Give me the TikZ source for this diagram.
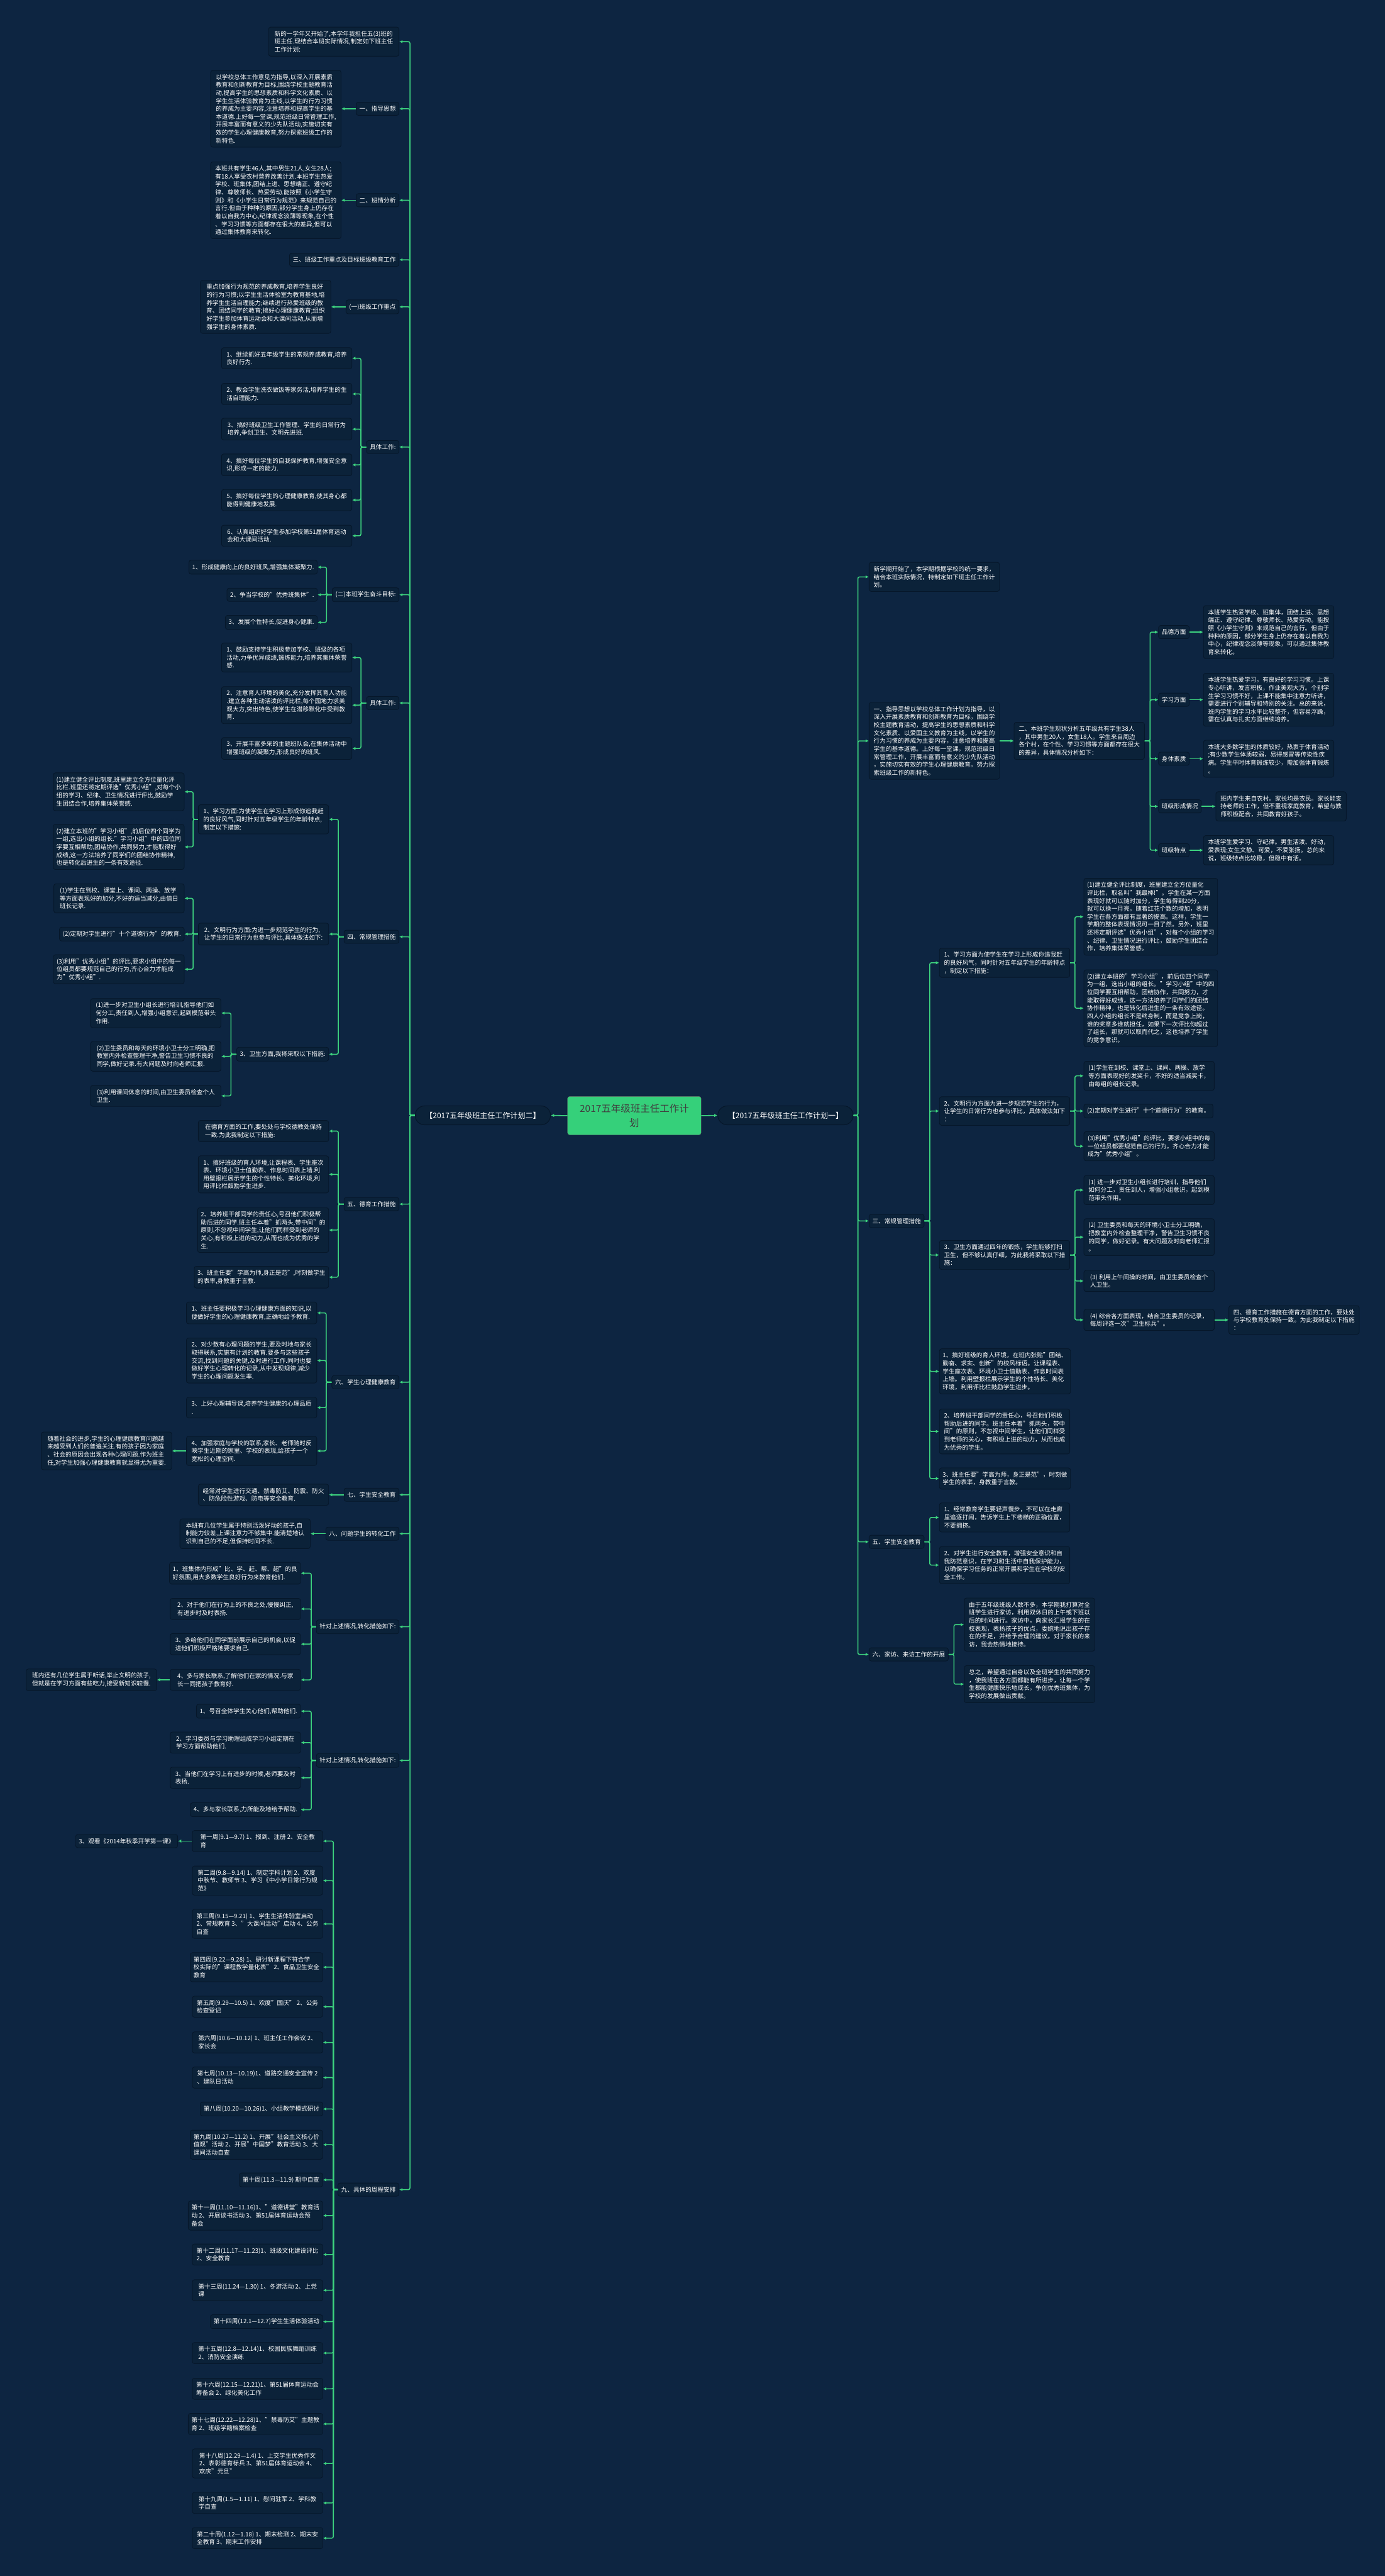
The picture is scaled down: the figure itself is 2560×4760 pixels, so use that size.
\documentclass[tikz,border=0pt]{standalone}
\usepackage{fontspec}
\setmainfont{Noto Sans CJK SC}
\usetikzlibrary{arrows.meta,shapes.misc}
\definecolor{bgnavy}{HTML}{0D2541}
\definecolor{cardfill}{HTML}{0B2239}
\definecolor{cardline}{HTML}{06172A}
\definecolor{linkgreen}{HTML}{3DD47F}
\definecolor{rootgreen}{HTML}{35D07A}
\newcommand{\cardfont}{\fontsize{11.2}{14.7}\selectfont}
\tikzset{
  card/.style={draw=cardline, fill=cardfill, line width=1pt, rounded corners=4pt, text=white, font=\cardfont, align=left, inner xsep=6pt, inner ysep=7pt},
  wide/.style={card, minimum width=241pt},
  branch/.style={rounded rectangle, draw=cardline, fill=cardfill, line width=1.2pt, text=white, font=\fontsize{14}{17}\selectfont, minimum width=257pt, minimum height=35pt},
  root/.style={draw=black!60, fill=rootgreen, rounded corners=4pt, text=black!75, font=\fontsize{18}{26}\selectfont, align=center, minimum width=247pt, minimum height=71pt},
  link/.style={draw=linkgreen, line width=1.8pt, rounded corners=3pt, -{Latex[length=6pt,width=6pt]}}
}
\begin{document}
\begin{tikzpicture}[x=1pt, y=-1pt]

\fill[bgnavy] (0,0) rectangle (2560,4760);

\node[root] (root) at (1172.5,2061.5) {2017五年级班主任工作计\\划};
\node[branch] (lbranch) at (892.5,2061) {【2017五年级班主任工作计划二】};
\node[branch] (rbranch) at (1452,2061) {【2017五年级班主任工作计划一】};
\draw[link] (root.west) -- (lbranch.east);
\draw[link] (root.east) -- (rbranch.west);

% left: plan two
\begin{scope}
\node[wide, anchor=east] (la1) at (738,77) {新的一学年又开始了,本学年我担任五(3)班的\\班主任.现结合本班实际情况,制定如下班主任\\工作计划:};

\node[card, anchor=east] (la2) at (738,201) {一、指导思想};
\node[wide, anchor=east] (la2t) at (631,201) {以学校总体工作意见为指导,以深入开展素质\\教育和创新教育为目标,围绕学校主题教育活\\动,提高学生的思想素质和科学文化素质、以\\学生生活体验教育为主线,以学生的行为习惯\\的养成为主要内容,注意培养和提高学生的基\\本道德.上好每一堂课,规范班级日常管理工作,\\开展丰富而有意义的少先队活动,实施切实有\\效的学生心理健康教育,努力探索班级工作的\\新特色.};

\node[card, anchor=east] (la3) at (738,370) {二、班情分析};
\node[wide, anchor=east] (la3t) at (631,370) {本班共有学生46人,其中男生21人,女生28人;\\有18人享受农村营养改善计划.本班学生热爱\\学校、班集体,团结上进、思想端正、遵守纪\\律、尊敬师长、热爱劳动.能按照《小学生守\\则》和《小学生日常行为规范》来规范自己的\\言行.但由于种种的原因,部分学生身上仍存在\\着以自我为中心,纪律观念淡薄等现象,在个性\\、学习习惯等方面都存在很大的差异,但可以\\通过集体教育来转化.};

\node[card, anchor=east] (la4) at (738,480) {三、班级工作重点及目标班级教育工作};

\node[card, anchor=east] (la5) at (738,567) {(一)班级工作重点};
\node[wide, anchor=east] (la5t) at (612,567) {重点加强行为规范的养成教育,培养学生良好\\的行为习惯;以学生生活体验室为教育基地,培\\养学生生活自理能力;继续进行热爱班级的教\\育、团结同学的教育;搞好心理健康教育;组织\\好学生参加体育运动会和大课间活动,从而增\\强学生的身体素质.};

\node[card, anchor=east] (la6) at (738,826) {具体工作:};
\node[wide, anchor=east] (la6a) at (651,662) {1、继续抓好五年级学生的常规养成教育,培养\\良好行为.};
\node[wide, anchor=east] (la6b) at (651,728) {2、教会学生洗衣做饭等家务活,培养学生的生\\活自理能力.};
\node[wide, anchor=east] (la6c) at (651,793) {3、搞好班级卫生工作管理、学生的日常行为\\培养,争创卫生、文明先进班.};
\node[wide, anchor=east] (la6d) at (651,859) {4、搞好每位学生的自我保护教育,增强安全意\\识,形成一定的能力.};
\node[wide, anchor=east] (la6e) at (651,924) {5、搞好每位学生的心理健康教育,使其身心都\\能得到健康地发展.};
\node[wide, anchor=east] (la6f) at (651,990) {6、认真组织好学生参加学校第51届体育运动\\会和大课间活动.};

\node[card, anchor=east] (la7) at (738,1099) {(二)本班学生奋斗目标:};
\node[card, anchor=east] (la7a) at (587,1048) {1、形成健康向上的良好班风,增强集体凝聚力.};
\node[card, anchor=east] (la7b) at (587,1099) {2、争当学校的"优秀班集体".};
\node[card, anchor=east] (la7c) at (587,1150) {3、发展个性特长,促进身心健康.};

\node[card, anchor=east] (la8) at (738,1299) {具体工作:};
\node[wide, anchor=east] (la8a) at (651,1215) {1、鼓励支持学生积极参加学校、班级的各项\\活动,力争优异成绩,锻炼能力,培养其集体荣誉\\感.};
\node[wide, anchor=east] (la8b) at (651,1303) {2、注意育人环境的美化,充分发挥其育人功能\\.建立各种生动活泼的评比栏,每个园地力求美\\观大方,突出特色,使学生在潜移默化中受到教\\育.};
\node[wide, anchor=east] (la8c) at (651,1383) {3、开展丰富多采的主题班队会,在集体活动中\\增强班级的凝聚力,形成良好的班风.};

\node[card, anchor=east] (la9) at (738,1731) {四、常规管理措施};
\node[wide, anchor=east] (lb1) at (608,1514) {1、学习方面:为使学生在学习上形成你追我赶\\的良好风气,同时针对五年级学生的年龄特点,\\制定以下措施:};
\node[wide, anchor=east] (lb1a) at (341,1463) {(1)建立健全评比制度,班里建立全方位量化评\\比栏.班里还将定期评选"优秀小组",对每个小\\组的学习、纪律、卫生情况进行评比,鼓励学\\生团结合作,培养集体荣誉感.};
\node[wide, anchor=east] (lb1b) at (341,1565) {(2)建立本班的"学习小组",前后位四个同学为\\一组,选出小组的组长."学习小组"中的四位同\\学要互相帮助,团结协作,共同努力,才能取得好\\成绩,这一方法培养了同学们的团结协作精神,\\也是转化后进生的一条有效途径.};
\node[wide, anchor=east] (lb2) at (608,1726) {2、文明行为方面:为进一步规范学生的行为,\\让学生的日常行为也参与评比,具体做法如下:};
\node[wide, anchor=east] (lb2a) at (341,1660) {(1)学生在到校、课堂上、课间、两操、放学\\等方面表现好的加分,不好的适当减分,由值日\\班长记录.};
\node[card, anchor=east] (lb2b) at (341,1726) {(2)定期对学生进行"十个道德行为"的教育.};
\node[wide, anchor=east] (lb2c) at (341,1791) {(3)利用"优秀小组"的评比,要求小组中的每一\\位组员都要规范自己的行为,齐心合力才能成\\为"优秀小组".};
\node[card, anchor=east] (lb3) at (608,1948) {3、卫生方面,我将采取以下措施:};
\node[wide, anchor=east] (lb3a) at (409,1872) {(1)进一步对卫生小组长进行培训,指导他们如\\何分工,责任到人,增强小组意识,起到模范带头\\作用.};
\node[wide, anchor=east] (lb3b) at (409,1952) {(2)卫生委员和每天的环境小卫士分工明确,把\\教室内外检查整理干净,警告卫生习惯不良的\\同学,做好记录.有大问题及时向老师汇报.};
\node[wide, anchor=east] (lb3c) at (409,2025) {(3)利用课间休息的时间,由卫生委员检查个人\\卫生.};

\node[card, anchor=east] (la10) at (738,2225) {五、德育工作措施};
\node[wide, anchor=east] (la10a) at (608,2090) {在德育方面的工作,要处处与学校德教处保持\\一致.为此我制定以下措施:};
\node[wide, anchor=east] (la10b) at (608,2170) {1、搞好班级的育人环境,让课程表、学生座次\\表、环境小卫士值勤表、作息时间表上墙.利\\用壁报栏展示学生的个性特长、美化环境,利\\用评比栏鼓励学生进步.};
\node[wide, anchor=east] (la10c) at (608,2273) {2、培养班干部同学的责任心,号召他们积极帮\\助后进的同学.班主任本着"抓两头,带中间"的\\原则,不忽视中间学生,让他们同样受到老师的\\关心,有积极上进的动力,从而也成为优秀的学\\生.};
\node[wide, anchor=east] (la10d) at (608,2360) {3、班主任要"学高为师,身正是范",时刻做学生\\的表率,身教重于言教.};

\node[card, anchor=east] (la11) at (738,2554) {六、学生心理健康教育};
\node[wide, anchor=east] (la11a) at (586,2426) {1、班主任要积极学习心理健康方面的知识,以\\便做好学生的心理健康教育,正确地给予教育.};
\node[wide, anchor=east] (la11b) at (586,2514) {2、对少数有心理问题的学生,要及时地与家长\\取得联系,实施有计划的教育.要多与这些孩子\\交流,找到问题的关键,及时进行工作.同时也要\\做好学生心理转化的记录,从中发现规律,减少\\学生的心理问题发生率.};
\node[wide, anchor=east] (la11c) at (586,2601) {3、上好心理辅导课,培养学生健康的心理品质\\.};
\node[wide, anchor=east] (la11d) at (586,2681) {4、加强家庭与学校的联系,家长、老师随时反\\映学生近期的家里、学校的表现,给孩子一个\\宽松的心理空间.};
\node[wide, anchor=east] (la11e) at (318,2681) {随着社会的进步,学生的心理健康教育问题越\\来越受到人们的普遍关注.有的孩子因为家庭\\、社会的原因会出现各种心理问题.作为班主\\任,对学生加强心理健康教育就显得尤为重要.};

\node[card, anchor=east] (la12) at (738,2762) {七、学生安全教育};
\node[wide, anchor=east] (la12t) at (608,2762) {经常对学生进行交通、禁毒防艾、防震、防火\\、防危险性游戏、防电等安全教育.};

\node[card, anchor=east] (la13) at (738,2834) {八、问题学生的转化工作};
\node[wide, anchor=east] (la13t) at (574,2834) {本班有几位学生属于特别活泼好动的孩子,自\\制能力较差,上课注意力不够集中.能清楚地认\\识到自己的不足,但保持时间不长.};

\node[card, anchor=east] (la14) at (738,3006) {针对上述情况,转化措施如下:};
\node[wide, anchor=east] (la14a) at (556,2907) {1、班集体内形成"比、学、赶、帮、超"的良\\好氛围,用大多数学生良好行为来教育他们.};
\node[wide, anchor=east] (la14b) at (556,2973) {2、对于他们在行为上的不良之处,慢慢纠正,\\有进步时及时表扬.};
\node[wide, anchor=east] (la14c) at (556,3038) {3、多给他们在同学面前展示自己的机会,以促\\进他们积极严格地要求自己.};
\node[wide, anchor=east] (la14d) at (556,3104) {4、多与家长联系,了解他们在家的情况.与家\\长一同把孩子教育好.};
\node[wide, anchor=east] (la14e) at (290,3104) {班内还有几位学生属于听话,举止文明的孩子,\\但就是在学习方面有些吃力,接受新知识较慢.};

\node[card, anchor=east] (la15) at (738,3253) {针对上述情况,转化措施如下:};
\node[card, anchor=east] (la15a) at (556,3162) {1、号召全体学生关心他们,帮助他们.};
\node[wide, anchor=east] (la15b) at (556,3220) {2、学习委员与学习助理组成学习小组定期在\\学习方面帮助他们.};
\node[wide, anchor=east] (la15c) at (556,3285) {3、当他们在学习上有进步的时候,老师要及时\\表扬.};
\node[card, anchor=east] (la15d) at (556,3344) {4、多与家长联系,力所能及地给予帮助.};

\node[card, anchor=east] (la16) at (738,4046) {九、具体的周程安排};
\node[wide, anchor=east] (w1) at (597,3402) {第一周(9.1—9.7) 1、报到、注册 2、安全教\\育};
\node[card, anchor=east] (w1x) at (329,3402) {3、观看《2014年秋季开学第一课》};
\node[wide, anchor=east] (w2) at (597,3475) {第二周(9.8—9.14) 1、制定学科计划 2、欢度\\中秋节、教师节 3、学习《中小学日常行为规\\范》};
\node[wide, anchor=east] (w3) at (597,3555) {第三周(9.15—9.21) 1、学生生活体验室启动\\2、常规教育 3、"大课间活动"启动 4、公务\\自查};
\node[wide, anchor=east] (w4) at (597,3635) {第四周(9.22—9.28) 1、研讨新课程下符合学\\校实际的"课程教学量化表" 2、食品卫生安全\\教育};
\node[wide, anchor=east] (w5) at (597,3708) {第五周(9.29—10.5) 1、欢度"国庆" 2、公务\\检查登记};
\node[wide, anchor=east] (w6) at (597,3774) {第六周(10.6—10.12) 1、班主任工作会议 2、\\家长会};
\node[wide, anchor=east] (w7) at (597,3839) {第七周(10.13—10.19)1、道路交通安全宣传 2\\、建队日活动};
\node[card, anchor=east] (w8) at (597,3897) {第八周(10.20—10.26)1、小组教学模式研讨};
\node[wide, anchor=east] (w9) at (597,3963) {第九周(10.27—11.2) 1、开展"社会主义核心价\\值观"活动 2、开展"中国梦"教育活动 3、大\\课间活动自查};
\node[card, anchor=east] (w10) at (597,4028) {第十周(11.3—11.9) 期中自查};
\node[wide, anchor=east] (w11) at (597,4094) {第十一周(11.10—11.16)1、"道德讲堂"教育活\\动 2、开展读书活动 3、第51届体育运动会预\\备会};
\node[wide, anchor=east] (w12) at (597,4166) {第十二周(11.17—11.23)1、班级文化建设评比\\2、安全教育};
\node[wide, anchor=east] (w13) at (597,4232) {第十三周(11.24—1.30) 1、冬游活动 2、上党\\课};
\node[card, anchor=east] (w14) at (597,4290) {第十四周(12.1—12.7)学生生活体验活动};
\node[wide, anchor=east] (w15) at (597,4348) {第十五周(12.8—12.14)1、校园民族舞蹈训练\\2、消防安全演练};
\node[wide, anchor=east] (w16) at (597,4414) {第十六周(12.15—12.21)1、第51届体育运动会\\筹备会 2、绿化美化工作};
\node[wide, anchor=east] (w17) at (597,4479) {第十七周(12.22—12.28)1、"禁毒防艾"主题教\\育 2、班级学籍档案检查};
\node[wide, anchor=east] (w18) at (597,4552) {第十八周(12.29—1.4) 1、上交学生优秀作文\\2、表彰德育标兵 3、第51届体育运动会 4、\\欢庆"元旦"};
\node[wide, anchor=east] (w19) at (597,4625) {第十九周(1.5—1.11) 1、慰问驻军 2、学科教\\学自查};
\node[wide, anchor=east] (w20) at (597,4690) {第二十周(1.12—1.18) 1、期末检测 2、期末安\\全教育 3、期末工作安排};

\foreach \c in {la1,la2,la3,la4,la5,la6,la7,la8,la9,la10,la11,la12,la13,la14,la15,la16}
  \draw[link] (lbranch.west) -- ++(-9,0) |- (\c.east);
\draw[link] (la2.west) -- (la2t.east);
\draw[link] (la3.west) -- (la3t.east);
\draw[link] (la5.west) -- (la5t.east);
\foreach \c in {la6a,la6b,la6c,la6d,la6e,la6f}
  \draw[link] (la6.west) -- ++(-10,0) |- (\c.east);
\foreach \c in {la7a,la7b,la7c}
  \draw[link] (la7.west) -- ++(-10,0) |- (\c.east);
\foreach \c in {la8a,la8b,la8c}
  \draw[link] (la8.west) -- ++(-10,0) |- (\c.east);
\foreach \c in {lb1,lb2,lb3}
  \draw[link] (la9.west) -- ++(-10,0) |- (\c.east);
\foreach \c in {lb1a,lb1b}
  \draw[link] (lb1.west) -- ++(-9,0) |- (\c.east);
\foreach \c in {lb2a,lb2b,lb2c}
  \draw[link] (lb2.west) -- ++(-9,0) |- (\c.east);
\foreach \c in {lb3a,lb3b,lb3c}
  \draw[link] (lb3.west) -- ++(-10,0) |- (\c.east);
\foreach \c in {la10a,la10b,la10c,la10d}
  \draw[link] (la10.west) -- ++(-10,0) |- (\c.east);
\foreach \c in {la11a,la11b,la11c,la11d}
  \draw[link] (la11.west) -- ++(-10,0) |- (\c.east);
\draw[link] (la11d.west) -- (la11e.east);
\draw[link] (la12.west) -- (la12t.east);
\draw[link] (la13.west) -- (la13t.east);
\foreach \c in {la14a,la14b,la14c,la14d}
  \draw[link] (la14.west) -- ++(-9,0) |- (\c.east);
\draw[link] (la14d.west) -- (la14e.east);
\foreach \c in {la15a,la15b,la15c,la15d}
  \draw[link] (la15.west) -- ++(-9,0) |- (\c.east);
\foreach \c in {w1,w2,w3,w4,w5,w6,w7,w8,w9,w10,w11,w12,w13,w14,w15,w16,w17,w18,w19,w20}
  \draw[link] (la16.west) -- ++(-8,0) |- (\c.east);
\draw[link] (w1.west) -- (w1x.east);
\end{scope}

% right: plan one
\begin{scope}
\node[wide, anchor=west] (ra1) at (1606,1066) {新学期开始了，本学期根据学校的统一要求，\\结合本班实际情况，特制定如下班主任工作计\\划。};
\node[wide, anchor=west] (ra2) at (1606,1369) {一、指导思想以学校总体工作计划为指导，以\\深入开展素质教育和创新教育为目标，围绕学\\校主题教育活动，提高学生的思想素质和科学\\文化素质、以爱国主义教育为主线，以学生的\\行为习惯的养成为主要内容，注意培养和提高\\学生的基本道德。上好每一堂课，规范班级日\\常管理工作，开展丰富而有意义的少先队活动\\，实施切实有效的学生心理健康教育。努力探\\索班级工作的新特色。};
\node[wide, anchor=west] (rb) at (1874,1369) {二、本班学生现状分析五年级共有学生38人\\，其中男生20人，女生18人。学生来自周边\\各个村，在个性、学习习惯等方面都存在很大\\的差异，具体情况分析如下：};
\node[card, anchor=west] (rb1) at (2141,1168) {品德方面};
\node[card, anchor=west] (rb2) at (2141,1293) {学习方面};
\node[card, anchor=west] (rb3) at (2141,1402) {身体素质};
\node[card, anchor=west] (rb4) at (2141,1490) {班级形成情况};
\node[card, anchor=west] (rb5) at (2141,1571) {班级特点};
\node[wide, anchor=west] (rb1t) at (2224,1168) {本班学生热爱学校、班集体，团结上进、思想\\端正、遵守纪律、尊敬师长、热爱劳动。能按\\照《小学生守则》来规范自己的言行。但由于\\种种的原因，部分学生身上仍存在着以自我为\\中心，纪律观念淡薄等现象，可以通过集体教\\育来转化。};
\node[wide, anchor=west] (rb2t) at (2224,1293) {本班学生热爱学习，有良好的学习习惯。上课\\专心听讲，发言积极，作业美观大方。个别学\\生学习习惯不好，上课不能集中注意力听讲，\\需要进行个别辅导和特别的关注。总的来说，\\班内学生的学习水平比较整齐，但容易浮躁，\\需在认真与扎实方面继续培养。};
\node[wide, anchor=west] (rb3t) at (2224,1402) {本班大多数学生的体质较好，热衷于体育活动\\;有少数学生体质较弱，易得感冒等传染性疾\\病。学生平时体育锻炼较少，需加强体育锻炼\\。};
\node[wide, anchor=west] (rb4t) at (2247,1490) {班内学生来自农村。家长均是农民。家长能支\\持老师的工作，但不重视家庭教育，希望与教\\师积极配合，共同教育好孩子。};
\node[wide, anchor=west] (rb5t) at (2224,1571) {本班学生爱学习、守纪律。男生活泼、好动，\\爱表现;女生文静、可爱，不爱张扬。总的来\\说，班级特点比较稳，但稳中有活。};

\node[card, anchor=west] (ra3) at (1606,2256) {三、常规管理措施};
\node[wide, anchor=west] (rc1) at (1736,1779) {1、学习方面为使学生在学习上形成你追我赶\\的良好风气，同时针对五年级学生的年龄特点\\，制定以下措施：};
\node[wide, anchor=west] (rc1a) at (2003,1694) {(1)建立健全评比制度，班里建立全方位量化\\评比栏，取名叫"我最棒!"。学生在某一方面\\表现好就可以随时加分，学生每得到20分，\\就可以换一月亮。随着红花个数的增加，表明\\学生在各方面都有显著的提高。这样，学生一\\学期的整体表现情况可一目了然。另外，班里\\还将定期评选"优秀小组"，对每个小组的学习\\、纪律、卫生情况进行评比，鼓励学生团结合\\作，培养集体荣誉感。};
\node[wide, anchor=west] (rc1b) at (2003,1863) {(2)建立本班的"学习小组"，前后位四个同学\\为一组，选出小组的组长。"学习小组"中的四\\位同学要互相帮助，团结协作，共同努力，才\\能取得好成绩，这一方法培养了同学们的团结\\协作精神，也是转化后进生的一条有效途径。\\四人小组的组长不是终身制，而是竞争上岗，\\谁的奖章多谁就担任，如果下一次评比你超过\\了组长，那就可以取而代之，这也培养了学生\\的竞争意识。};
\node[wide, anchor=west] (rc2) at (1736,2053) {2、文明行为方面为进一步规范学生的行为，\\让学生的日常行为也参与评比，具体做法如下\\：};
\node[wide, anchor=west] (rc2a) at (2003,1988) {(1)学生在到校、课堂上、课间、两操、放学\\等方面表现好的发奖卡，不好的适当减奖卡，\\由每组的组长记录。};
\node[card, anchor=west] (rc2b) at (2003,2053) {(2)定期对学生进行"十个道德行为"的教育。};
\node[wide, anchor=west] (rc2c) at (2003,2118) {(3)利用"优秀小组"的评比，要求小组中的每\\一位组员都要规范自己的行为，齐心合力才能\\成为"优秀小组"。};
\node[wide, anchor=west] (rc3) at (1736,2319) {3、卫生方面通过四年的锻炼，学生能够打扫\\卫生，但不够认真仔细，为此我将采取以下措\\施：};
\node[wide, anchor=west] (rc3a) at (2003,2199) {(1) 进一步对卫生小组长进行培训，指导他们\\如何分工，责任到人，增强小组意识，起到模\\范带头作用。};
\node[wide, anchor=west] (rc3b) at (2003,2286) {(2) 卫生委员和每天的环境小卫士分工明确，\\把教室内外检查整理干净，警告卫生习惯不良\\的同学，做好记录。有大问题及时向老师汇报\\。};
\node[wide, anchor=west] (rc3c) at (2003,2367) {(3) 利用上午间操的时间，由卫生委员检查个\\人卫生。};
\node[wide, anchor=west] (rc3d) at (2003,2439) {(4) 综合各方面表现，结合卫生委员的记录，\\每周评选一次"卫生标兵"。};
\node[wide, anchor=west] (rc3e) at (2271,2439) {四、德育工作措施在德育方面的工作，要处处\\与学校教育处保持一致。为此我制定以下措施\\：};
\node[wide, anchor=west] (rc4) at (1736,2534) {1、搞好班级的育人环境，在班内张贴"团结、\\勤奋、求实、创新"的校风标语。让课程表、\\学生座次表、环境小卫士值勤表、作息时间表\\上墙。利用壁报栏展示学生的个性特长、美化\\环境，利用评比栏鼓励学生进步。};
\node[wide, anchor=west] (rc5) at (1736,2645) {2、培养班干部同学的责任心，号召他们积极\\帮助后进的同学。班主任本着"抓两头，带中\\间"的原则，不忽视中间学生，让他们同样受\\到老师的关心，有积极上进的动力，从而也成\\为优秀的学生。};
\node[wide, anchor=west] (rc6) at (1736,2732) {3、班主任要"学高为师，身正是范"，时刻做\\学生的表率，身教重于言教。};

\node[card, anchor=west] (ra4) at (1606,2849) {五、学生安全教育};
\node[wide, anchor=west] (rd1) at (1736,2804) {1、经常教育学生要轻声慢步，不可以在走廊\\里追逐打闹，告诉学生上下楼梯的正确位置，\\不要拥挤。};
\node[wide, anchor=west] (rd2) at (1736,2892) {2、对学生进行安全教育，增强安全意识和自\\我防范意识，在学习和生活中自我保护能力，\\以确保学习任务的正常开展和学生在学校的安\\全工作。};

\node[card, anchor=west] (ra5) at (1606,3057) {六、家访、来访工作的开展};
\node[wide, anchor=west] (re1) at (1782,3002) {由于五年级班级人数不多，本学期我打算对全\\班学生进行家访，利用双休日的上午或下班以\\后的时间进行。家访中，向家长汇报学生的在\\校表现，表扬孩子的优点，委婉地说出孩子存\\在的不足，并给予合理的建议。对于家长的来\\访，我会热情地接待。};
\node[wide, anchor=west] (re2) at (1782,3112) {总之，希望通过自身以及全班学生的共同努力\\，使我班在各方面都能有所进步，让每一个学\\生都能健康快乐地成长，争创优秀班集体，为\\学校的发展做出贡献。};

\foreach \c in {ra1,ra2,ra3,ra4,ra5}
  \draw[link] (rbranch.east) -- ++(8,0) |- (\c.west);
\draw[link] (ra2.east) -- (rb.west);
\foreach \c in {rb1,rb2,rb3,rb4,rb5}
  \draw[link] (rb.east) -- ++(10,0) |- (\c.west);
\draw[link] (rb1.east) -- (rb1t.west);
\draw[link] (rb2.east) -- (rb2t.west);
\draw[link] (rb3.east) -- (rb3t.west);
\draw[link] (rb4.east) -- (rb4t.west);
\draw[link] (rb5.east) -- (rb5t.west);
\foreach \c in {rc1,rc2,rc3,rc4,rc5,rc6}
  \draw[link] (ra3.east) -- ++(10,0) |- (\c.west);
\foreach \c in {rc1a,rc1b}
  \draw[link] (rc1.east) -- ++(9,0) |- (\c.west);
\foreach \c in {rc2a,rc2b,rc2c}
  \draw[link] (rc2.east) -- ++(9,0) |- (\c.west);
\foreach \c in {rc3a,rc3b,rc3c,rc3d}
  \draw[link] (rc3.east) -- ++(9,0) |- (\c.west);
\draw[link] (rc3d.east) -- (rc3e.west);
\foreach \c in {rd1,rd2}
  \draw[link] (ra4.east) -- ++(10,0) |- (\c.west);
\foreach \c in {re1,re2}
  \draw[link] (ra5.east) -- ++(10,0) |- (\c.west);
\end{scope}

\end{tikzpicture}
\end{document}
